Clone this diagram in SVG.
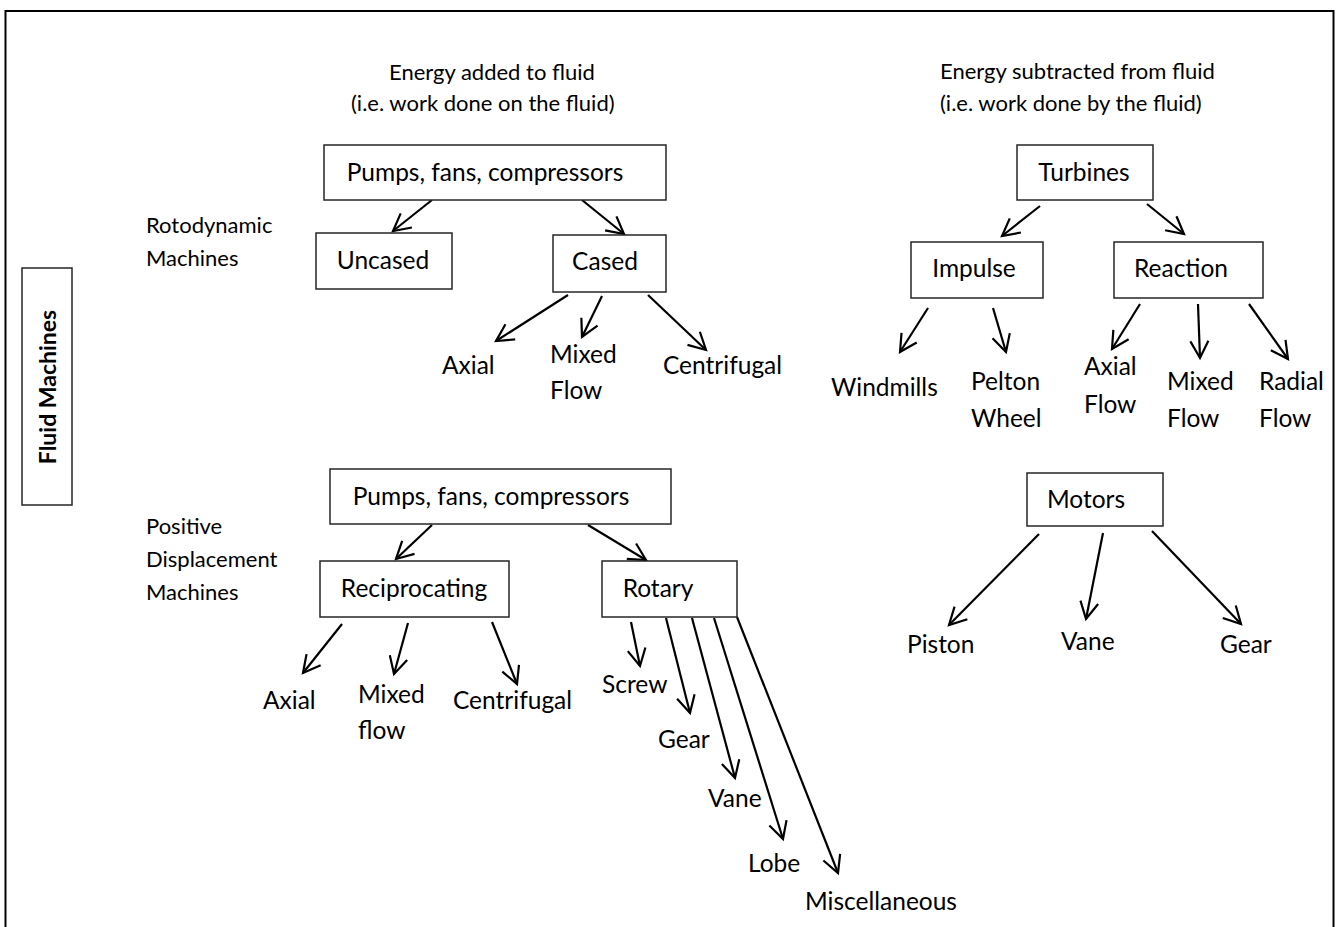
<svg xmlns="http://www.w3.org/2000/svg" width="1340" height="927" viewBox="0 0 1340 927">
<style>
  .bg{fill:#ffffff}
  .frame{fill:none;stroke:#000;stroke-width:2}
  .box{fill:#fff;stroke:#262626;stroke-width:1.5}
  .node{font-family:Lato,"Liberation Sans",sans-serif;font-size:24.5px;fill:#000;text-anchor:middle}
  .leaf{font-family:Lato,"Liberation Sans",sans-serif;font-size:24.5px;fill:#000}
  .side{font-family:Lato,"Liberation Sans",sans-serif;font-size:22px;fill:#000}
  .title{font-family:Lato,"Liberation Sans",sans-serif;font-size:23px;font-weight:bold;fill:#000;text-anchor:middle}
  .conn line{stroke:#000;stroke-width:2.2;marker-end:url(#arr)}
</style>
<defs>
  <marker id="arr" markerUnits="userSpaceOnUse" markerWidth="20" markerHeight="20" refX="17" refY="9" orient="auto" overflow="visible">
    <path d="M0,0 L17,9 L0,18" fill="none" stroke="#000" stroke-width="2.2" stroke-linejoin="miter"/>
  </marker>
</defs>
<rect class="bg" x="0" y="0" width="1340" height="927"/>
<rect class="frame" x="5.5" y="11" width="1328" height="940"/>

<g id="title-fluid-machines">
  <rect class="box" x="22" y="268" width="50" height="237"/>
  <text class="title" transform="translate(56,387) rotate(-90)">Fluid Machines</text>
</g>

<g id="header-added">
  <text class="side" x="389" y="80">Energy added to fluid</text>
  <text class="side" x="351" y="111">(i.e. work done on the fluid)</text>
</g>
<g id="header-subtracted">
  <text class="side" x="940" y="79">Energy subtracted from fluid</text>
  <text class="side" x="940" y="111">(i.e. work done by the fluid)</text>
</g>
<g id="label-rotodynamic">
  <text class="side" x="146" y="233">Rotodynamic</text>
  <text class="side" x="146" y="266">Machines</text>
</g>
<g id="label-positive">
  <text class="side" x="146" y="534">Positive</text>
  <text class="side" x="146" y="567">Displacement</text>
  <text class="side" x="146" y="600">Machines</text>
</g>

<g id="connectors" class="conn">
  <line x1="432" y1="200" x2="393" y2="231"/>
  <line x1="582" y1="200" x2="624" y2="234"/>
  <line x1="568" y1="295" x2="496" y2="341"/>
  <line x1="602" y1="296" x2="582" y2="337"/>
  <line x1="648" y1="295" x2="706" y2="350"/>
  <line x1="1040" y1="206" x2="1002" y2="236"/>
  <line x1="1147" y1="204" x2="1184" y2="234"/>
  <line x1="928" y1="308" x2="900" y2="352"/>
  <line x1="993" y1="308" x2="1006" y2="352"/>
  <line x1="1140" y1="304" x2="1112" y2="349"/>
  <line x1="1198" y1="304" x2="1200" y2="358"/>
  <line x1="1249" y1="304" x2="1288" y2="359"/>
  <line x1="432" y1="525" x2="396" y2="559"/>
  <line x1="588" y1="525" x2="646" y2="560"/>
  <line x1="342" y1="624" x2="303" y2="673"/>
  <line x1="408" y1="623" x2="394" y2="674"/>
  <line x1="492" y1="622" x2="517" y2="684"/>
  <line x1="631" y1="622" x2="640" y2="666"/>
  <line x1="666" y1="618" x2="690" y2="713"/>
  <line x1="692" y1="618" x2="735" y2="778"/>
  <line x1="714" y1="618" x2="783" y2="839"/>
  <line x1="737" y1="617" x2="838" y2="873"/>
  <line x1="1039" y1="534" x2="949" y2="625"/>
  <line x1="1103" y1="533" x2="1086" y2="619"/>
  <line x1="1152" y1="531" x2="1241" y2="624"/>
</g>

<g id="rd-pumps"><rect class="box" x="324" y="145" width="342" height="55"/><text class="node" x="485" y="181">Pumps, fans, compressors</text></g>
<g id="rd-uncased"><rect class="box" x="316" y="233" width="136" height="56"/><text class="node" x="383" y="269">Uncased</text></g>
<g id="rd-cased"><rect class="box" x="553" y="235" width="113" height="57"/><text class="node" x="605" y="270">Cased</text></g>
<g id="rd-axial"><text class="leaf" x="442" y="374">Axial</text></g>
<g id="rd-mixed"><text class="leaf" x="550" y="363">Mixed</text><text class="leaf" x="550" y="399">Flow</text></g>
<g id="rd-centrifugal"><text class="leaf" x="663" y="374">Centrifugal</text></g>

<g id="turbines"><rect class="box" x="1017" y="145" width="136" height="55"/><text class="node" x="1084" y="181">Turbines</text></g>
<g id="impulse"><rect class="box" x="911" y="242" width="132" height="56"/><text class="node" x="974" y="277">Impulse</text></g>
<g id="reaction"><rect class="box" x="1114" y="242" width="149" height="56"/><text class="node" x="1181" y="277">Reaction</text></g>
<g id="windmills"><text class="leaf" x="831" y="396">Windmills</text></g>
<g id="pelton"><text class="leaf" x="971" y="390">Pelton</text><text class="leaf" x="971" y="427">Wheel</text></g>
<g id="t-axial"><text class="leaf" x="1084" y="375">Axial</text><text class="leaf" x="1084" y="413">Flow</text></g>
<g id="t-mixed"><text class="leaf" x="1167" y="390">Mixed</text><text class="leaf" x="1167" y="427">Flow</text></g>
<g id="t-radial"><text class="leaf" x="1259" y="390">Radial</text><text class="leaf" x="1259" y="427">Flow</text></g>

<g id="pd-pumps"><rect class="box" x="330" y="469" width="341" height="55"/><text class="node" x="491" y="505">Pumps, fans, compressors</text></g>
<g id="pd-recip"><rect class="box" x="320" y="561" width="189" height="56"/><text class="node" x="414" y="597">Reciprocating</text></g>
<g id="pd-rotary"><rect class="box" x="602" y="561" width="135" height="56"/><text class="node" x="658" y="597">Rotary</text></g>
<g id="pd-axial"><text class="leaf" x="263" y="709">Axial</text></g>
<g id="pd-mixed"><text class="leaf" x="358" y="703">Mixed</text><text class="leaf" x="358" y="739">flow</text></g>
<g id="pd-centrifugal"><text class="leaf" x="453" y="709">Centrifugal</text></g>
<g id="pd-screw"><text class="leaf" x="602" y="693">Screw</text></g>
<g id="pd-gear"><text class="leaf" x="658" y="748">Gear</text></g>
<g id="pd-vane"><text class="leaf" x="708" y="807">Vane</text></g>
<g id="pd-lobe"><text class="leaf" x="748" y="872">Lobe</text></g>
<g id="pd-misc"><text class="leaf" x="805" y="910">Miscellaneous</text></g>

<g id="motors"><rect class="box" x="1027" y="473" width="136" height="53"/><text class="node" x="1086" y="508">Motors</text></g>
<g id="m-piston"><text class="leaf" x="907" y="653">Piston</text></g>
<g id="m-vane"><text class="leaf" x="1061" y="650">Vane</text></g>
<g id="m-gear"><text class="leaf" x="1220" y="653">Gear</text></g>
</svg>
